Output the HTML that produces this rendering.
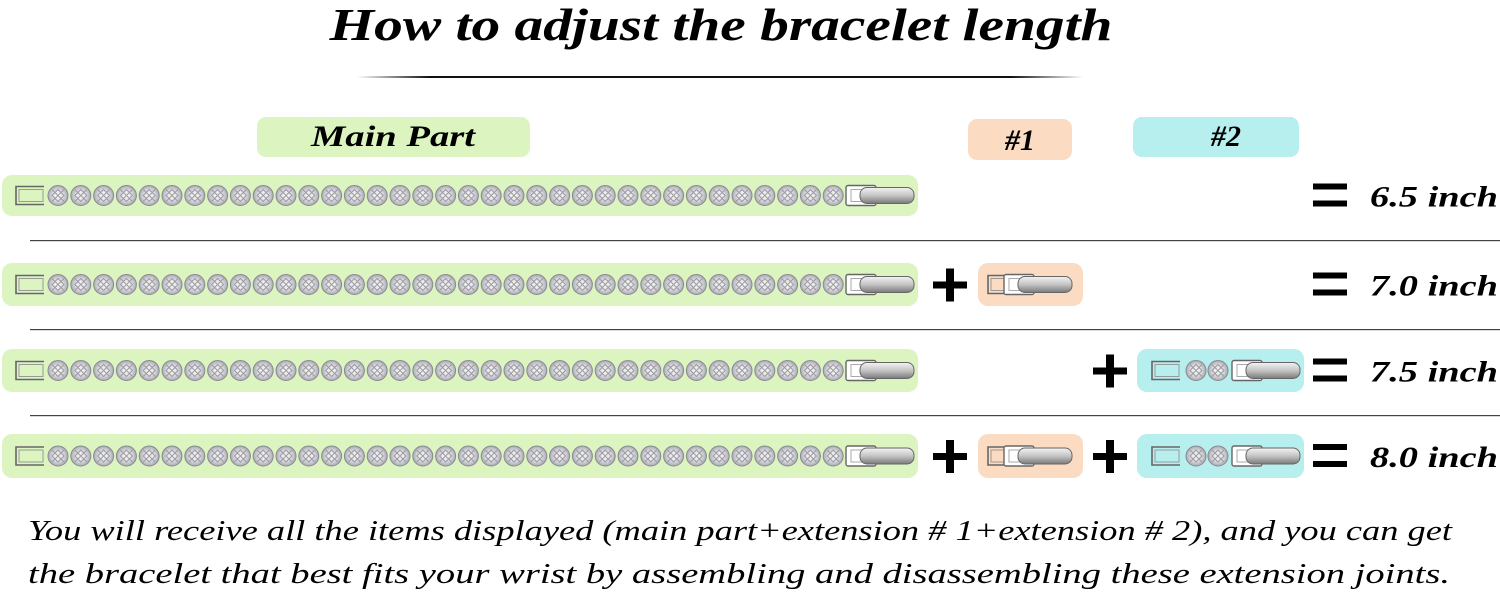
<!DOCTYPE html>
<html><head><meta charset="utf-8"><style>
html,body{margin:0;padding:0;background:#fff;width:1500px;height:596px;overflow:hidden}
svg{display:block}
text{font-family:"Liberation Serif","DejaVu Serif",serif}
</style></head><body>
<svg id="s" width="1500" height="596" viewBox="0 0 1500 596" xmlns="http://www.w3.org/2000/svg">
<defs>
<linearGradient id="cl" x1="0" y1="0" x2="0" y2="1">
<stop offset="0" stop-color="#f4f4f4"/><stop offset="0.5" stop-color="#c4c4c4"/><stop offset="1" stop-color="#7a7a7a"/>
</linearGradient>
<radialGradient id="st" cx="0.5" cy="0.5" r="0.5">
<stop offset="0" stop-color="#fafafa"/><stop offset="0.5" stop-color="#e2e2e8"/><stop offset="1" stop-color="#a8a8b0"/>
</radialGradient>
<linearGradient id="ul" x1="0" x2="1"><stop offset="0" stop-color="#fff"/><stop offset="0.1" stop-color="#111"/><stop offset="0.9" stop-color="#111"/><stop offset="1" stop-color="#fff"/></linearGradient>
</defs>
<text x="721" y="40" text-anchor="middle" font-size="46" font-weight="bold" font-style="italic" textLength="783" lengthAdjust="spacingAndGlyphs">How to adjust the bracelet length</text>
<rect x="357" y="76" width="726" height="2" fill="url(#ul)"/>
<rect x="257" y="117" width="273" height="40" rx="9" fill="#dcf5c0"/>
<rect x="968" y="119" width="104" height="41" rx="9" fill="#fbdcc3"/>
<rect x="1133" y="117" width="166" height="40" rx="9" fill="#b7eeee"/>
<text x="393" y="146" text-anchor="middle" font-size="30" font-weight="bold" font-style="italic" textLength="164" lengthAdjust="spacingAndGlyphs">Main Part</text>
<text x="1020" y="150" text-anchor="middle" font-size="30" font-weight="bold" font-style="italic">#1</text>
<text x="1226" y="146" text-anchor="middle" font-size="30" font-weight="bold" font-style="italic">#2</text>
<g id="rows"></g>
<text x="28" y="540" font-size="29" font-style="italic" textLength="1424" lengthAdjust="spacingAndGlyphs">You will receive all the items displayed (main part+extension # 1+extension # 2), and you can get</text>
<text x="28" y="583" font-size="29" font-style="italic" textLength="1422" lengthAdjust="spacingAndGlyphs">the bracelet that best fits your wrist by assembling and disassembling these extension joints.</text>
</svg>
<script>
var g=document.getElementById('rows'),h='';
function stone(x,y){return '<circle cx="'+x+'" cy="'+y+'" r="10" fill="url(#st)" stroke="#8a8a90" stroke-width="1"/><path d="M'+(x-6)+' '+y+'L'+x+' '+(y-6)+'L'+(x+6)+' '+y+'L'+x+' '+(y+6)+'Z M'+(x-6)+' '+(y-6)+'L'+(x+6)+' '+(y+6)+'M'+(x+6)+' '+(y-6)+'L'+(x-6)+' '+(y+6)+'" fill="none" stroke="#9a9aa0" stroke-width="1"/>';}
function open(x,y){return '<path d="M'+(x+28)+' '+(y-9)+'H'+x+'V'+(y+9)+'H'+(x+28)+'" fill="none" stroke="#666" stroke-width="1.6"/><rect x="'+(x+3)+'" y="'+(y-6)+'" width="24" height="12" fill="none" stroke="#999"/>';}
function clasp(x,y){return '<rect x="'+x+'" y="'+(y-10)+'" width="30" height="20" rx="2" fill="#fff" stroke="#666" stroke-width="1.4"/><rect x="'+(x+5)+'" y="'+(y-6)+'" width="22" height="12" fill="none" stroke="#aaa"/><rect x="'+(x+14)+'" y="'+(y-8)+'" width="54" height="16" rx="7" fill="url(#cl)" stroke="#666"/>';}
var rows=[[175,216],[263,306],[349,392],[434,478]];
var labels=['6.5 inch','7.0 inch','7.5 inch','8.0 inch'];
rows.forEach(function(r,i){
 var y=(r[0]+r[1])/2;
 h+='<rect x="2" y="'+r[0]+'" width="916" height="'+(r[1]-r[0])+'" rx="10" fill="#dcf5c0"/>';
 h+=open(16,y);
 for(var k=0;k<35;k++)h+=stone(58+k*22.8,y);
 h+=clasp(846,y);
 if(i==1||i==3){h+='<rect x="978" y="'+r[0]+'" width="105" height="'+(r[1]-r[0])+'" rx="10" fill="#fbdcc3"/>'+open(988,y)+clasp(1004,y);
  h+='<rect x="933" y="'+(y-3)+'" width="34" height="7" fill="#000"/><rect x="946" y="'+(y-16)+'" width="8" height="33" fill="#000"/>';}
 if(i==2||i==3){h+='<rect x="1137" y="'+r[0]+'" width="167" height="'+(r[1]-r[0])+'" rx="10" fill="#b7eeee"/>'+open(1152,y)+stone(1196,y)+stone(1218,y)+clasp(1232,y);
  h+='<rect x="1093" y="'+(y-3)+'" width="34" height="7" fill="#000"/><rect x="1106" y="'+(y-16)+'" width="8" height="33" fill="#000"/>';}
 h+='<rect x="1313" y="'+(y-12)+'" width="34" height="6" fill="#000"/><rect x="1313" y="'+(y+5)+'" width="34" height="6" fill="#000"/>';
 h+='<text x="1370" y="'+(y+11)+'" font-size="30" font-weight="bold" font-style="italic" textLength="128" lengthAdjust="spacingAndGlyphs">'+labels[i]+'</text>';
 if(i<3){var sy=[240,329,415][i];h+='<rect x="30" y="'+sy+'" width="1470" height="1.2" fill="#444"/>';}
});
g.innerHTML=h;
</script>
</body></html>
